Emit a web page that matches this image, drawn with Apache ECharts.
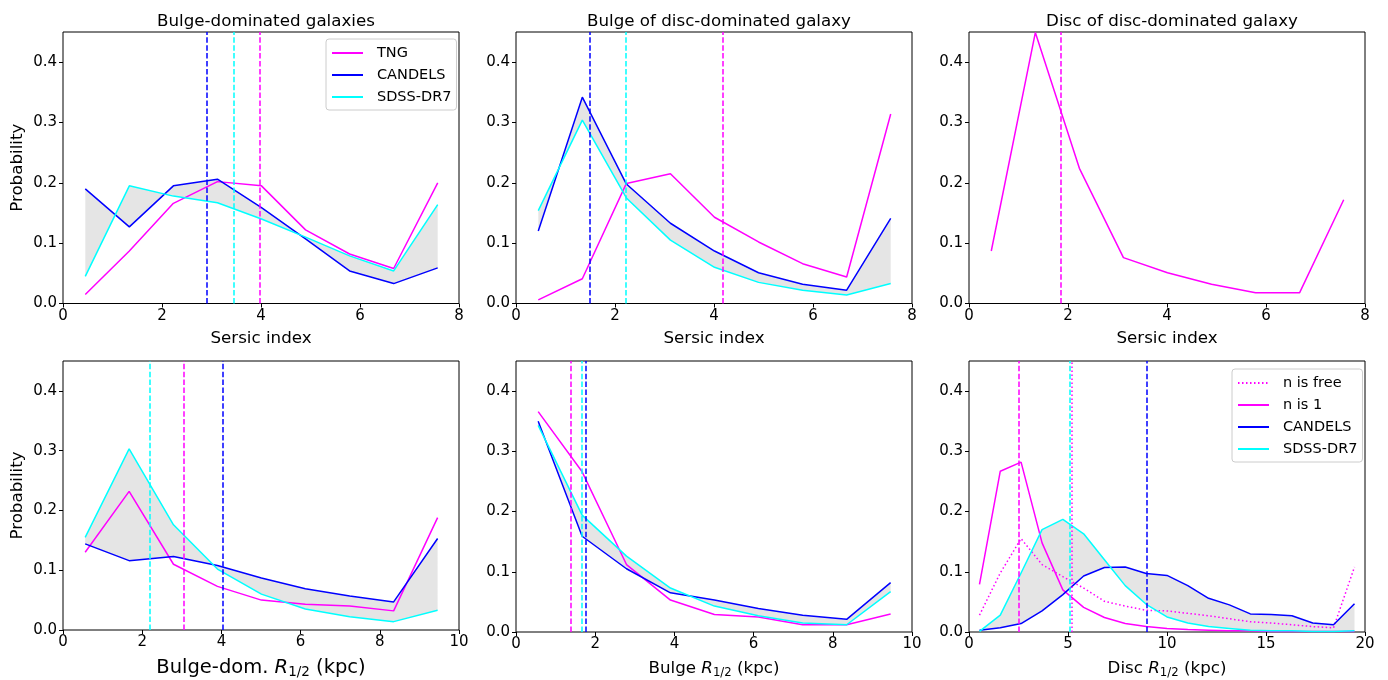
<!DOCTYPE html>
<html><head><meta charset="utf-8">
<script src="https://cdn.jsdelivr.net/npm/echarts@6/dist/echarts.min.js"></script>
<style>html,body{margin:0;padding:0;background:#fff}#c{width:1388px;height:680px}</style>
</head><body><div id="c"></div>
<script>
// ---------- data ----------
const sersicX = [0.45, 1.34, 2.23, 3.12, 4.01, 4.90, 5.79, 6.68, 7.57];
const bulgeRX = [0.56, 1.67, 2.79, 3.90, 5.01, 6.12, 7.24, 8.35, 9.46];
const discRX = [0.53, 1.58, 2.63, 3.69, 4.74, 5.79, 6.84, 7.89, 8.95, 10.00, 11.05, 12.10, 13.15, 14.21, 15.26, 16.31, 17.36, 18.41, 19.47];

// panel 1: Bulge-dominated galaxies (Sersic index)
const p1TNG = [0.015, 0.087, 0.166, 0.202, 0.195, 0.122, 0.082, 0.058, 0.200];
const p1CAN = [0.190, 0.127, 0.195, 0.206, 0.159, 0.107, 0.054, 0.033, 0.059];
const p1SDSS = [0.045, 0.195, 0.178, 0.167, 0.140, 0.110, 0.079, 0.054, 0.164];
const p1Med = {TNG: 3.97, CAN: 2.90, SDSS: 3.44};

// panel 2: Bulge of disc-dominated galaxy (Sersic index)
const p2TNG = [0.006, 0.041, 0.199, 0.215, 0.143, 0.102, 0.066, 0.044, 0.314];
const p2CAN = [0.120, 0.342, 0.198, 0.133, 0.087, 0.051, 0.032, 0.022, 0.141];
const p2SDSS = [0.154, 0.304, 0.175, 0.105, 0.060, 0.035, 0.022, 0.014, 0.033];
const p2Med = {TNG: 4.18, CAN: 1.48, SDSS: 2.22};

// panel 3: Disc of disc-dominated galaxy (Sersic index)
const p3TNG = [0.087, 0.449, 0.224, 0.076, 0.051, 0.032, 0.018, 0.018, 0.172];
const p3Med = {TNG: 1.85};

// panel 4: Bulge-dominated R1/2
const p4TNG = [0.130, 0.232, 0.110, 0.073, 0.050, 0.043, 0.040, 0.032, 0.188];
const p4CAN = [0.144, 0.116, 0.123, 0.108, 0.087, 0.069, 0.057, 0.047, 0.153];
const p4SDSS = [0.155, 0.303, 0.176, 0.102, 0.060, 0.035, 0.022, 0.014, 0.033];
const p4Med = {TNG: 3.05, CAN: 4.03, SDSS: 2.19};

// panel 5: Bulge R1/2
const p5TNG = [0.366, 0.266, 0.112, 0.053, 0.029, 0.025, 0.012, 0.012, 0.030];
const p5CAN = [0.350, 0.159, 0.105, 0.065, 0.053, 0.039, 0.028, 0.021, 0.082];
const p5SDSS = [0.343, 0.194, 0.126, 0.073, 0.043, 0.027, 0.015, 0.012, 0.067];
const p5Med = {TNG: 1.37, CAN: 1.77, SDSS: 1.67};

// panel 6: Disc R1/2
const p6Free = [0.028, 0.098, 0.155, 0.112, 0.092, 0.073, 0.051, 0.043, 0.036, 0.035, 0.031, 0.027, 0.022, 0.017, 0.015, 0.012, 0.009, 0.007, 0.108];
const p6N1 = [0.079, 0.267, 0.282, 0.148, 0.070, 0.041, 0.024, 0.014, 0.009, 0.006, 0.004, 0.003, 0.002, 0.002, 0.001, 0.001, 0.001, 0.001, 0.001];
const p6CAN = [0.003, 0.007, 0.014, 0.035, 0.062, 0.093, 0.107, 0.108, 0.097, 0.094, 0.077, 0.056, 0.045, 0.030, 0.029, 0.027, 0.015, 0.012, 0.047];
const p6SDSS = [0.001, 0.028, 0.098, 0.170, 0.187, 0.163, 0.120, 0.077, 0.046, 0.025, 0.015, 0.009, 0.006, 0.003, 0.002, 0.002, 0.001, 0.001, 0.002];
const p6Med = {Free: 5.20, N1: 2.53, CAN: 8.96, SDSS: 5.08};

const titles = ['Bulge-dominated galaxies', 'Bulge of disc-dominated galaxy', 'Disc of disc-dominated galaxy'];
const yTicks = [0, 0.1, 0.2, 0.3, 0.4];

// ---------- styling / layout ----------
const MAG = '#ff00ff', BLU = '#0000ff', CYA = '#00ffff';
const FONT = 'DejaVu Sans';
const lefts = [63, 516, 969], tops = [32, 361], W = 396, H = 271.5;

const grids = [], xAxes = [], yAxes = [], series = [], titleArr = [];
function addGrid(row, col, xmax, xint, xname, ylab, xnameBig) {
  const k = grids.length;
  grids.push({left: lefts[col], top: tops[row], width: W, height: H, show: true, borderColor: '#000', borderWidth: 1, backgroundColor: 'transparent', containLabel: false});
  xAxes.push({type: 'value', gridIndex: k, min: 0, max: xmax, interval: xint,
    axisLine: {show: false}, splitLine: {show: false},
    axisTick: {show: true, inside: false, length: 4, lineStyle: {color: '#000', width: 1}},
    axisLabel: {color: '#000', fontFamily: FONT, fontSize: 15, margin: 5},
    name: xname, nameLocation: 'middle', nameGap: xnameBig ? 26 : 27,
    nameTextStyle: xnameBig ? {color: '#000', fontFamily: FONT, fontSize: 19.5,
      rich: {n: {fontFamily: FONT, fontSize: 19.5, color: '#000'}, i: {fontFamily: FONT, fontSize: 19.5, fontStyle: 'italic', color: '#000'}, s: {fontFamily: FONT, fontSize: 13.5, color: '#000', padding: [9, 0, 0, 0]}}}
      : {color: '#000', fontFamily: FONT, fontSize: 16.7,
      rich: {n: {fontFamily: FONT, fontSize: 16.7, color: '#000'}, i: {fontFamily: FONT, fontSize: 16.7, fontStyle: 'italic', color: '#000'}, s: {fontFamily: FONT, fontSize: 11.7, color: '#000', padding: [8, 0, 0, 0]}}}
  });
  yAxes.push({type: 'value', gridIndex: k, min: 0, max: 0.45,
    axisLine: {show: false}, splitLine: {show: false},
    axisTick: {show: true, inside: false, length: 4, lineStyle: {color: '#000', width: 1}, customValues: yTicks},
    axisLabel: {color: '#000', fontFamily: FONT, fontSize: 15, margin: 6, customValues: yTicks, formatter: v => v.toFixed(1)},
    name: ylab ? 'Probability' : '', nameLocation: 'middle', nameGap: 37,
    nameTextStyle: {color: '#000', fontFamily: FONT, fontSize: 16.7}
  });
  return k;
}
function line(k, name, xs, ys, color, type) {
  series.push({type: 'line', name: name, xAxisIndex: k, yAxisIndex: k,
    data: xs.map((x, i) => [x, ys[i]]), symbol: 'none', z: 3,
    lineStyle: {color: color, width: 1.5, type: type || 'solid'}, itemStyle: {color: color},
    silent: true, animation: false});
}
function vline(k, x, color, type) {
  series.push({type: 'line', xAxisIndex: k, yAxisIndex: k, data: [], z: 4, silent: true, animation: false,
    markLine: {silent: true, symbol: 'none', animation: false, label: {show: false},
      lineStyle: {color: color, width: 1.5, type: type || [5.5, 2.4], opacity: 1},
      emphasis: {disabled: true}, data: [{xAxis: x}]}});
}
function fill(k, xs, a, b) {
  series.push({type: 'custom', xAxisIndex: k, yAxisIndex: k, silent: true, animation: false, z: 1,
    data: xs.map((x, i) => [x, a[i], b[i]]), encode: {x: 0, y: [1, 2]},
    renderItem: function (params, api) {
      if (params.dataIndex !== 0) return null;
      const pts = [];
      for (let i = 0; i < xs.length; i++) pts.push(api.coord([xs[i], a[i]]));
      for (let i = xs.length - 1; i >= 0; i--) pts.push(api.coord([xs[i], b[i]]));
      return {type: 'polygon', shape: {points: pts}, style: {fill: 'rgba(0,0,0,0.1)', stroke: 'none'}};
    }});
}

// top row
let k;
k = addGrid(0, 0, 8, 2, 'Sersic index', true);
fill(k, sersicX, p1CAN, p1SDSS);
line(k, 'TNG', sersicX, p1TNG, MAG); line(k, 'CANDELS', sersicX, p1CAN, BLU); line(k, 'SDSS-DR7', sersicX, p1SDSS, CYA);
vline(k, p1Med.CAN, BLU); vline(k, p1Med.SDSS, CYA); vline(k, p1Med.TNG, MAG);

k = addGrid(0, 1, 8, 2, 'Sersic index', false);
fill(k, sersicX, p2CAN, p2SDSS);
line(k, 'TNG', sersicX, p2TNG, MAG); line(k, 'CANDELS', sersicX, p2CAN, BLU); line(k, 'SDSS-DR7', sersicX, p2SDSS, CYA);
vline(k, p2Med.CAN, BLU); vline(k, p2Med.SDSS, CYA); vline(k, p2Med.TNG, MAG);

k = addGrid(0, 2, 8, 2, 'Sersic index', false);
line(k, 'TNG', sersicX, p3TNG, MAG);
vline(k, p3Med.TNG, MAG);

// bottom row
k = addGrid(1, 0, 10, 2, '{n|Bulge-dom. }{i|R}{s|1/2}{n| (kpc)}', true, true);
fill(k, bulgeRX, p4CAN, p4SDSS);
line(k, 'TNG', bulgeRX, p4TNG, MAG); line(k, 'CANDELS', bulgeRX, p4CAN, BLU); line(k, 'SDSS-DR7', bulgeRX, p4SDSS, CYA);
vline(k, p4Med.SDSS, CYA); vline(k, p4Med.TNG, MAG); vline(k, p4Med.CAN, BLU);

k = addGrid(1, 1, 10, 2, '{n|Bulge }{i|R}{s|1/2}{n| (kpc)}', false);
fill(k, bulgeRX, p5CAN, p5SDSS);
line(k, 'TNG', bulgeRX, p5TNG, MAG); line(k, 'CANDELS', bulgeRX, p5CAN, BLU); line(k, 'SDSS-DR7', bulgeRX, p5SDSS, CYA);
vline(k, p5Med.TNG, MAG); vline(k, p5Med.SDSS, CYA); vline(k, p5Med.CAN, BLU);

k = addGrid(1, 2, 20, 5, '{n|Disc }{i|R}{s|1/2}{n| (kpc)}', false);
fill(k, discRX, p6CAN, p6SDSS);
line(k, 'n is free', discRX, p6Free, MAG, [1.5, 2.5]); line(k, 'n is 1', discRX, p6N1, MAG);
line(k, 'CANDELS', discRX, p6CAN, BLU); line(k, 'SDSS-DR7', discRX, p6SDSS, CYA);
vline(k, p6Med.N1, MAG); vline(k, p6Med.SDSS, CYA); vline(k, p6Med.Free, MAG, [1.5, 2.5]); vline(k, p6Med.CAN, BLU);

for (let c = 0; c < 3; c++) {
  titleArr.push({text: titles[c], left: lefts[c] + W / 2, top: 8, textAlign: 'center',
    textStyle: {fontFamily: FONT, fontSize: 16.7, fontWeight: 'normal', color: '#000'}});
}

const legendCommon = {orient: 'vertical', backgroundColor: 'rgba(255,255,255,0.8)', borderColor: '#cccccc', borderWidth: 1, borderRadius: 3,
  itemWidth: 31, itemHeight: 12, itemGap: 6, padding: [6, 5, 5, 5], selectedMode: false,
  itemStyle: {opacity: 0},
  textStyle: {fontFamily: FONT, fontSize: 14.5, color: '#000', padding: [0, 0, 0, 9], lineHeight: 16}};

const option = {
  animation: false,
  backgroundColor: '#fff',
  title: titleArr,
  grid: grids, xAxis: xAxes, yAxis: yAxes,
  legend: [
    Object.assign({}, legendCommon, {left: 326, top: 39, data: ['TNG', 'CANDELS', 'SDSS-DR7']}),
    Object.assign({}, legendCommon, {left: 1232, top: 369, data: ['n is free', 'n is 1', 'CANDELS', 'SDSS-DR7']})
  ],
  series: series
};
const chart = echarts.init(document.getElementById('c'), null, {renderer: 'canvas'});
chart.setOption(option);
</script></body></html>
